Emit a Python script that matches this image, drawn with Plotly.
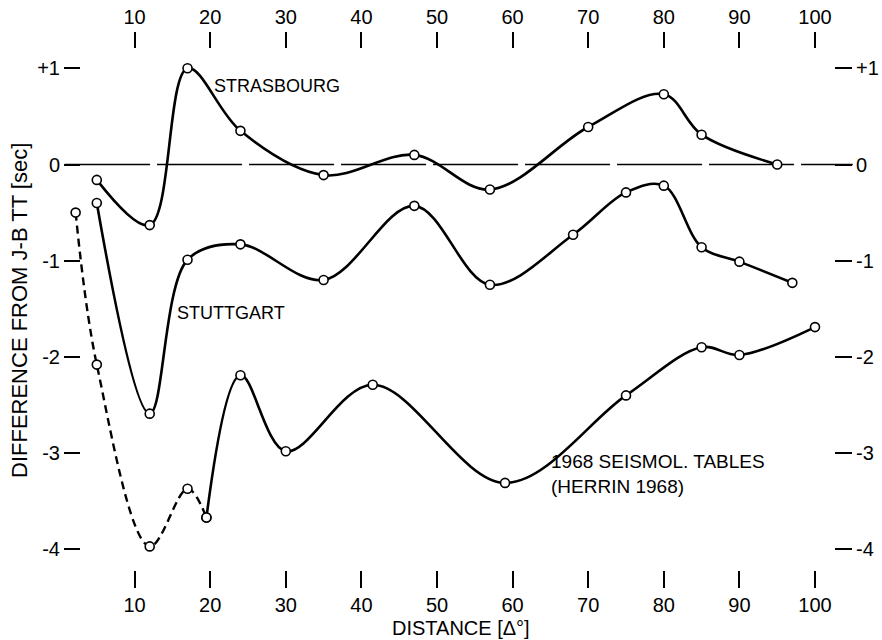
import plotly.graph_objects as go

# ---- data ----
STRAS_X = [5, 12, 17, 24, 35, 47, 57, 70, 80, 85, 95]
STRAS_Y = [-0.16, -0.63, 1.00, 0.35, -0.11, 0.10, -0.26, 0.39, 0.73, 0.31, 0.00]

STUTT_X = [5, 12, 17, 24, 35, 47, 57, 68, 75, 80, 85, 90, 97]
STUTT_Y = [-0.40, -2.59, -0.99, -0.83, -1.20, -0.43, -1.25, -0.73, -0.29, -0.22, -0.86, -1.01, -1.23]

HERRIN_DASHED_X = [2.2, 5, 12, 17, 19.5]
HERRIN_DASHED_Y = [-0.50, -2.08, -3.97, -3.37, -3.67]
HERRIN_SOLID_X = [19.5, 24, 30, 41.5, 59, 75, 85, 90, 100]
HERRIN_SOLID_Y = [-3.67, -2.19, -2.98, -2.29, -3.31, -2.40, -1.90, -1.98, -1.69]

ZERO_LINE_X = [0.8, 105.0]
ZERO_LINE_Y = [0, 0]

X_TICKS = [10, 20, 30, 40, 50, 60, 70, 80, 90, 100]
Y_TICKS = [1, 0, -1, -2, -3, -4]
Y_TICK_TEXT = ["+1", "0", "-1", "-2", "-3", "-4"]

# ---- geometry ----
W, H = 882, 640
PAGE_OFFSET = 0          # body margin is removed in the page (see post_script)
X_PER_PX = 1 / 7.56      # data units per screen pixel
Y_PER_PX = 1 / 96.2
X0_SCREEN = 59.0         # screen px of x = 0
Y0_SCREEN = 164.5        # screen px of y = 0


def px_to_x(sx):
    return (sx - X0_SCREEN) * X_PER_PX


def px_to_y(sy):
    return (Y0_SCREEN - sy) * Y_PER_PX


def paper_x(sx):
    return (sx - PAGE_OFFSET) / W


def paper_y(sy):
    return 1 - (sy - PAGE_OFFSET) / H


X_RANGE = [px_to_x(PAGE_OFFSET), px_to_x(PAGE_OFFSET + W)]
Y_RANGE = [px_to_y(PAGE_OFFSET + H), px_to_y(PAGE_OFFSET)]

LABEL_FONT = "Liberation Sans, Arial, sans-serif"
TICK_FONT = "Liberation Sans, Arial, sans-serif"

line_style = dict(color="black", width=2.6, shape="spline", smoothing=1.0)
marker_style = dict(symbol="circle", size=9, color="white",
                    line=dict(color="black", width=1.6))

fig = go.Figure()

fig.add_trace(go.Scatter(x=ZERO_LINE_X, y=ZERO_LINE_Y, mode="lines",
                         line=dict(color="black", width=1.4, dash="85px,7px"),
                         hoverinfo="skip"))

fig.add_trace(go.Scatter(x=STRAS_X, y=STRAS_Y, mode="lines+markers",
                         line=line_style, marker=marker_style, cliponaxis=False))
fig.add_trace(go.Scatter(x=STUTT_X, y=STUTT_Y, mode="lines+markers",
                         line=line_style, marker=marker_style, cliponaxis=False))
fig.add_trace(go.Scatter(x=HERRIN_DASHED_X, y=HERRIN_DASHED_Y, mode="lines+markers",
                         line=dict(color="black", width=2.4, shape="spline",
                                   smoothing=1.0, dash="8px,5px"),
                         marker=marker_style, cliponaxis=False))
# solid Herrin branch drawn on the top/right axis pair (same ranges) so those axes render
fig.add_trace(go.Scatter(x=HERRIN_SOLID_X, y=HERRIN_SOLID_Y, mode="lines+markers",
                         xaxis="x2", yaxis="y2",
                         line=line_style, marker=marker_style, cliponaxis=False))

tick_font = dict(family=TICK_FONT, size=20, color="black")
common_x = dict(range=X_RANGE, tickmode="array", tickvals=X_TICKS,
                showgrid=False, zeroline=False, showline=False,
                ticks="outside", tickwidth=2, tickcolor="black",
                tickfont=tick_font, anchor="free", automargin=False,
                fixedrange=True)
common_y = dict(range=Y_RANGE, tickmode="array", tickvals=Y_TICKS,
                ticktext=Y_TICK_TEXT,
                showgrid=False, zeroline=False, showline=False,
                ticks="outside", tickwidth=2, tickcolor="black",
                tickfont=tick_font, anchor="free", automargin=False,
                fixedrange=True)

fig.update_layout(
    width=W, height=H,
    margin=dict(l=0, r=0, t=0, b=0),
    paper_bgcolor="white", plot_bgcolor="white",
    showlegend=False,
    hovermode=False,
    xaxis=dict(**common_x, side="bottom", position=paper_y(570), ticklen=17),
    xaxis2=dict(**common_x, side="top", overlaying="x", position=paper_y(48),
                ticklen=16),
    yaxis=dict(**common_y, side="left", position=paper_x(80), ticklen=16),
    yaxis2=dict(**common_y, side="right", overlaying="y", position=paper_x(834),
                ticklen=17),
)

label_font = dict(family=LABEL_FONT, size=18, color="black")
fig.add_annotation(x=px_to_x(212), y=px_to_y(86), xref="x", yref="y", text="STRASBOURG",
                   showarrow=False, xanchor="left", yanchor="middle", font=label_font)
fig.add_annotation(x=px_to_x(175), y=px_to_y(313), xref="x", yref="y", text="STUTTGART",
                   showarrow=False, xanchor="left", yanchor="middle", font=label_font)
fig.add_annotation(x=px_to_x(549), y=px_to_y(474), xref="x", yref="y",
                   text="1968 SEISMOL. TABLES<br>(HERRIN 1968)",
                   showarrow=False, xanchor="left", yanchor="middle", align="left",
                   font=dict(family=LABEL_FONT, size=19, color="black"))

fig.add_annotation(x=paper_x(461), y=paper_y(628), xref="paper", yref="paper",
                   text="DISTANCE [Δ°]", showarrow=False,
                   xanchor="center", yanchor="middle",
                   font=dict(family=LABEL_FONT, size=20, color="black"))
fig.add_annotation(x=paper_x(19), y=paper_y(311), xref="paper", yref="paper",
                   text="DIFFERENCE FROM J-B TT [sec]", showarrow=False,
                   textangle=-90, xanchor="center", yanchor="middle",
                   font=dict(family=LABEL_FONT, size=22, color="black"))

fig.write_html("out.html",
               config={"displayModeBar": False, "staticPlot": True},
               post_script="document.body.style.margin='0';"
                           "document.body.style.overflow='hidden';")
